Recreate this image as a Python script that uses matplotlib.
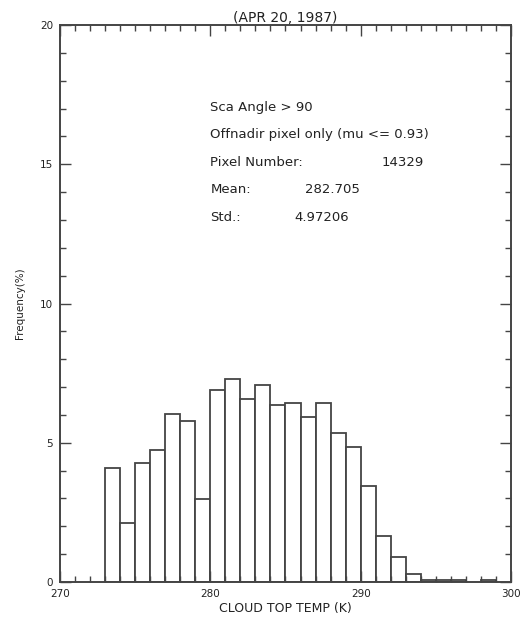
import numpy as np
import matplotlib.pyplot as plt
from matplotlib.ticker import MultipleLocator

# Histogram of cloud top temperature, 1 K bins
bin_left = np.arange(273, 300)
freq = [4.10, 2.11, 4.26, 4.74, 6.03, 5.78, 2.97, 6.89, 7.28, 6.57,
        7.07, 6.36, 6.42, 5.91, 6.42, 5.34, 4.86, 3.46, 1.66, 0.91,
        0.29, 0.07, 0.07, 0.07, 0.0, 0.07, 0.0]

x_ticks = [270, 280, 290, 300]
y_ticks = [0, 5, 10, 15, 20]

title = "(APR 20, 1987)"
info_lines = ["Sca Angle > 90", "Offnadir pixel only (mu <= 0.93)"]
stats = [("Pixel Number:", "14329"), ("Mean:", "282.705"), ("Std.:", "4.97206")]

fig = plt.figure(figsize=(5.25, 6.17), dpi=100)
ax = fig.add_axes([0.1143, 0.0567, 0.859, 0.9028])

line_col = "#444444"
for b, f in zip(bin_left, freq):
    if f > 0:
        ax.bar(b, f, width=1.0, align="edge", facecolor="white",
               edgecolor=line_col, linewidth=1.3)

ax.set_xlim(270, 300)
ax.set_ylim(0, 20)
ax.set_xticks(x_ticks)
ax.set_yticks(y_ticks)
ax.xaxis.set_minor_locator(MultipleLocator(1))
ax.yaxis.set_minor_locator(MultipleLocator(1))
ax.tick_params(which="both", direction="in", top=True, right=True,
               colors=line_col, labelcolor="#222222", labelsize=7.5, width=1.0)
ax.tick_params(which="major", length=8, pad=5)
ax.tick_params(which="minor", length=4)
for s in ax.spines.values():
    s.set_color(line_col)
    s.set_linewidth(1.4)

ax.set_title(title, fontsize=10, color="#222222", pad=1)
ax.set_xlabel("CLOUD TOP TEMP (K)", fontsize=9, color="#222222", labelpad=2)
ax.set_ylabel("Frequency(%)", fontsize=7.5, color="#222222", labelpad=11)

# annotation block
y0 = 17.05
dy = 0.99
txt_x = 280.0
for i, t in enumerate(info_lines):
    ax.text(txt_x, y0 - i * dy, t, fontsize=9.5, color="#222222", va="center")
val_x = [291.4, 286.3, 285.6]
for j, (lab, val) in enumerate(stats):
    yy = y0 - (j + 2) * dy
    ax.text(txt_x, yy, lab, fontsize=9.5, color="#222222", va="center")
    ax.text(val_x[j], yy, val, fontsize=9.5, color="#222222", va="center")

fig.savefig("out.png", dpi=100)
